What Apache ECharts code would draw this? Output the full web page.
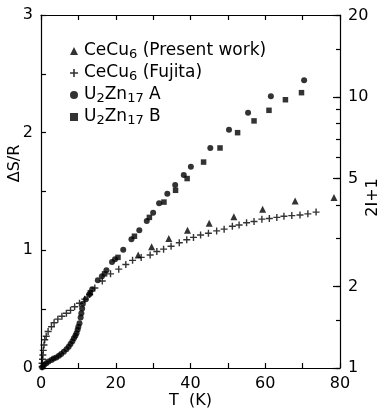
<!DOCTYPE html>
<html>
<head>
  <meta charset="utf-8">
</head>
<body style="margin: 0">
  <div id="container" style="width: 377px; height: 415px"></div>
  <script src="https://cdn.jsdelivr.net/npm/echarts@6/dist/echarts.min.js"></script>
  <script>
    // data: [T (K), dS/R]
    var presentWork = [
      [26.0, 0.96], [29.6, 1.03], [34.2, 1.10], [39.2, 1.17], [45.0, 1.23],
      [51.6, 1.285], [59.3, 1.35], [68.0, 1.42], [78.4, 1.45]
    ];
    var fujita = [
      [0.3, 0.01], [0.3, 0.04], [0.4, 0.075], [0.5, 0.11], [0.6, 0.15], [0.8, 0.195],
      [1.0, 0.24], [1.4, 0.27], [1.9, 0.31], [2.8, 0.35], [3.5, 0.385], [4.5, 0.415],
      [5.6, 0.44], [6.8, 0.465], [7.9, 0.49], [9.0, 0.52], [10.3, 0.55], [11.7, 0.585],
      [13.0, 0.625], [14.4, 0.68], [16.4, 0.74], [18.6, 0.80], [20.8, 0.84], [22.7, 0.88],
      [24.5, 0.915], [26.8, 0.94], [29.2, 0.96], [31.0, 0.99], [32.8, 1.01], [34.8, 1.035],
      [37.0, 1.065], [39.0, 1.09], [40.8, 1.11], [42.7, 1.13], [44.8, 1.145], [47.0, 1.165],
      [49.0, 1.18], [51.2, 1.205], [53.0, 1.215], [55.0, 1.235], [57.0, 1.245], [59.1, 1.265],
      [61.1, 1.27], [63.1, 1.28], [65.0, 1.29], [67.1, 1.295], [69.3, 1.30], [71.4, 1.31],
      [73.6, 1.325]
    ];
    var u2zn17A = [
      [0.3, 0.006], [0.8, 0.025], [1.4, 0.04], [2.0, 0.055], [2.8, 0.068], [3.4, 0.08],
      [4.1, 0.09], [4.8, 0.105], [5.4, 0.119], [6.1, 0.138], [6.8, 0.159], [7.4, 0.18],
      [7.9, 0.204], [8.4, 0.228], [8.8, 0.252], [9.2, 0.275], [9.5, 0.295], [9.8, 0.325],
      [10.0, 0.351], [10.3, 0.38], [10.6, 0.43], [10.8, 0.465], [11.0, 0.505], [11.2, 0.545],
      [12.0, 0.585], [12.9, 0.625], [13.7, 0.67], [15.2, 0.745], [16.3, 0.78], [17.5, 0.83],
      [19.0, 0.90], [19.8, 0.925], [22.0, 1.005], [24.2, 1.095], [26.3, 1.17], [28.3, 1.25],
      [30.0, 1.32], [31.6, 1.40], [33.8, 1.48], [35.9, 1.555], [38.2, 1.64], [40.1, 1.71],
      [45.3, 1.87], [50.3, 2.025], [55.4, 2.17], [61.5, 2.31], [70.4, 2.445]
    ];
    var u2zn17B = [
      [13.2, 0.64], [17.0, 0.80], [20.6, 0.94], [25.0, 1.12], [29.0, 1.28], [32.9, 1.41],
      [36.0, 1.51], [39.1, 1.61], [43.5, 1.75], [47.9, 1.87], [52.6, 2.0], [57.0, 2.10],
      [61.0, 2.19], [65.4, 2.28], [69.7, 2.34]
    ];
    var seriesNames = ['CeCu6 (Present work)', 'CeCu6 (Fujita)', 'U2Zn17 A', 'U2Zn17 B'];
    var rightTicks = [1, 1.5, 2, 3, 4, 5, 6, 7, 8, 9, 10, 15, 20];
    var rightLabels = [1, 2, 5, 10, 20];

    var FONT = 'DejaVu Sans';
    var PLUS = 'path://M0,4H10V6H0Z M4,0H6V10H4Z';

    var dom = document.getElementById('container');
    var myChart = echarts.init(dom, null, { renderer: 'canvas' });

    var lineStyle = { color: '#000', width: 1.2 };
    var labelStyle = { color: '#000', fontFamily: FONT, fontSize: 16, margin: 8 };

    var option = {
      animation: false,
      backgroundColor: '#fff',
      grid: { left: 41, right: 37, top: 15, bottom: 47, outerBoundsMode: 'none', containLabel: false },
      legend: {
        orient: 'vertical',
        left: 65,
        top: 37,
        itemWidth: 8,
        itemHeight: 8,
        itemGap: 3,
        data: seriesNames,
        formatter: function (n) {
          return n.replace(/([A-Za-z])(\d+)/g, '$1{s|$2}');
        },
        textStyle: {
          color: '#000',
          fontFamily: FONT,
          fontSize: 17,
          lineHeight: 18,
          padding: [0, 0, 0, 1],
          rich: {
            s: { color: '#000', fontFamily: FONT, fontSize: 13, padding: [7, 0, 0, 0] }
          }
        }
      },
      xAxis: [
        {
          type: 'value', min: 0, max: 80, interval: 10,
          name: 'T  (K)', nameLocation: 'middle', nameGap: 25, nameMoveOverlap: false,
          nameTextStyle: { color: '#000', fontFamily: FONT, fontSize: 16 },
          axisLine: { onZero: false, lineStyle: lineStyle },
          axisTick: { inside: true, length: 5, lineStyle: lineStyle },
          axisLabel: Object.assign({
            formatter: function (v) { return v % 20 === 0 ? v : ''; }
          }, labelStyle),
          splitLine: { show: false }
        },
        {
          type: 'value', min: 0, max: 80, interval: 10, position: 'top',
          axisLine: { onZero: false, lineStyle: lineStyle },
          axisTick: { inside: true, length: 5, lineStyle: lineStyle },
          axisLabel: { show: false },
          splitLine: { show: false }
        }
      ],
      yAxis: [
        {
          type: 'value', min: 0, max: 3, interval: 0.5,
          name: 'ΔS/R', nameLocation: 'middle', nameGap: 18, nameMoveOverlap: false,
          nameTextStyle: { color: '#000', fontFamily: FONT, fontSize: 16, padding: [0, 0, 0, 56] },
          axisLine: { onZero: false, lineStyle: lineStyle },
          axisTick: { inside: true, length: 5, lineStyle: lineStyle },
          axisLabel: Object.assign({
            formatter: function (v) { return v % 1 === 0 ? v : ''; }
          }, labelStyle),
          splitLine: { show: false }
        },
        {
          type: 'value', min: 0, max: 3, position: 'right',
          name: '2J+1', nameLocation: 'middle', nameGap: 25, nameRotate: 90, nameMoveOverlap: false,
          nameTextStyle: { color: '#000', fontFamily: FONT, fontSize: 16, padding: [0, 12, 0, 0] },
          axisLine: { onZero: false, lineStyle: lineStyle },
          axisTick: {
            inside: true, length: 7, lineStyle: lineStyle,
            customValues: rightLabels.map(Math.log)
          },
          axisLabel: Object.assign({
            customValues: rightLabels.map(Math.log),
            formatter: function (v) { return Math.round(Math.exp(v)); }
          }, labelStyle),
          splitLine: { show: false }
        },
        {
          type: 'value', min: 0, max: 3, position: 'right',
          axisLine: { show: false, onZero: false },
          axisTick: {
            inside: true, length: 4, lineStyle: lineStyle,
            customValues: rightTicks.map(Math.log)
          },
          axisLabel: { show: false },
          splitLine: { show: false }
        }
      ],
      series: [
        {
          name: seriesNames[0], type: 'scatter', symbol: 'triangle', symbolSize: 7,
          itemStyle: { color: '#000' }, data: presentWork
        },
        {
          name: seriesNames[1], type: 'scatter', symbol: PLUS, symbolSize: 7,
          itemStyle: { color: '#000' }, data: fujita
        },
        {
          name: seriesNames[2], type: 'scatter', symbol: 'circle', symbolSize: 6,
          itemStyle: { color: '#000' }, data: u2zn17A
        },
        {
          name: seriesNames[3], type: 'scatter', symbol: 'rect', symbolSize: 5.5,
          itemStyle: { color: '#000' }, data: u2zn17B
        }
      ]
    };

    myChart.setOption(option);
    window.addEventListener('resize', myChart.resize);
  </script>
</body>
</html>
